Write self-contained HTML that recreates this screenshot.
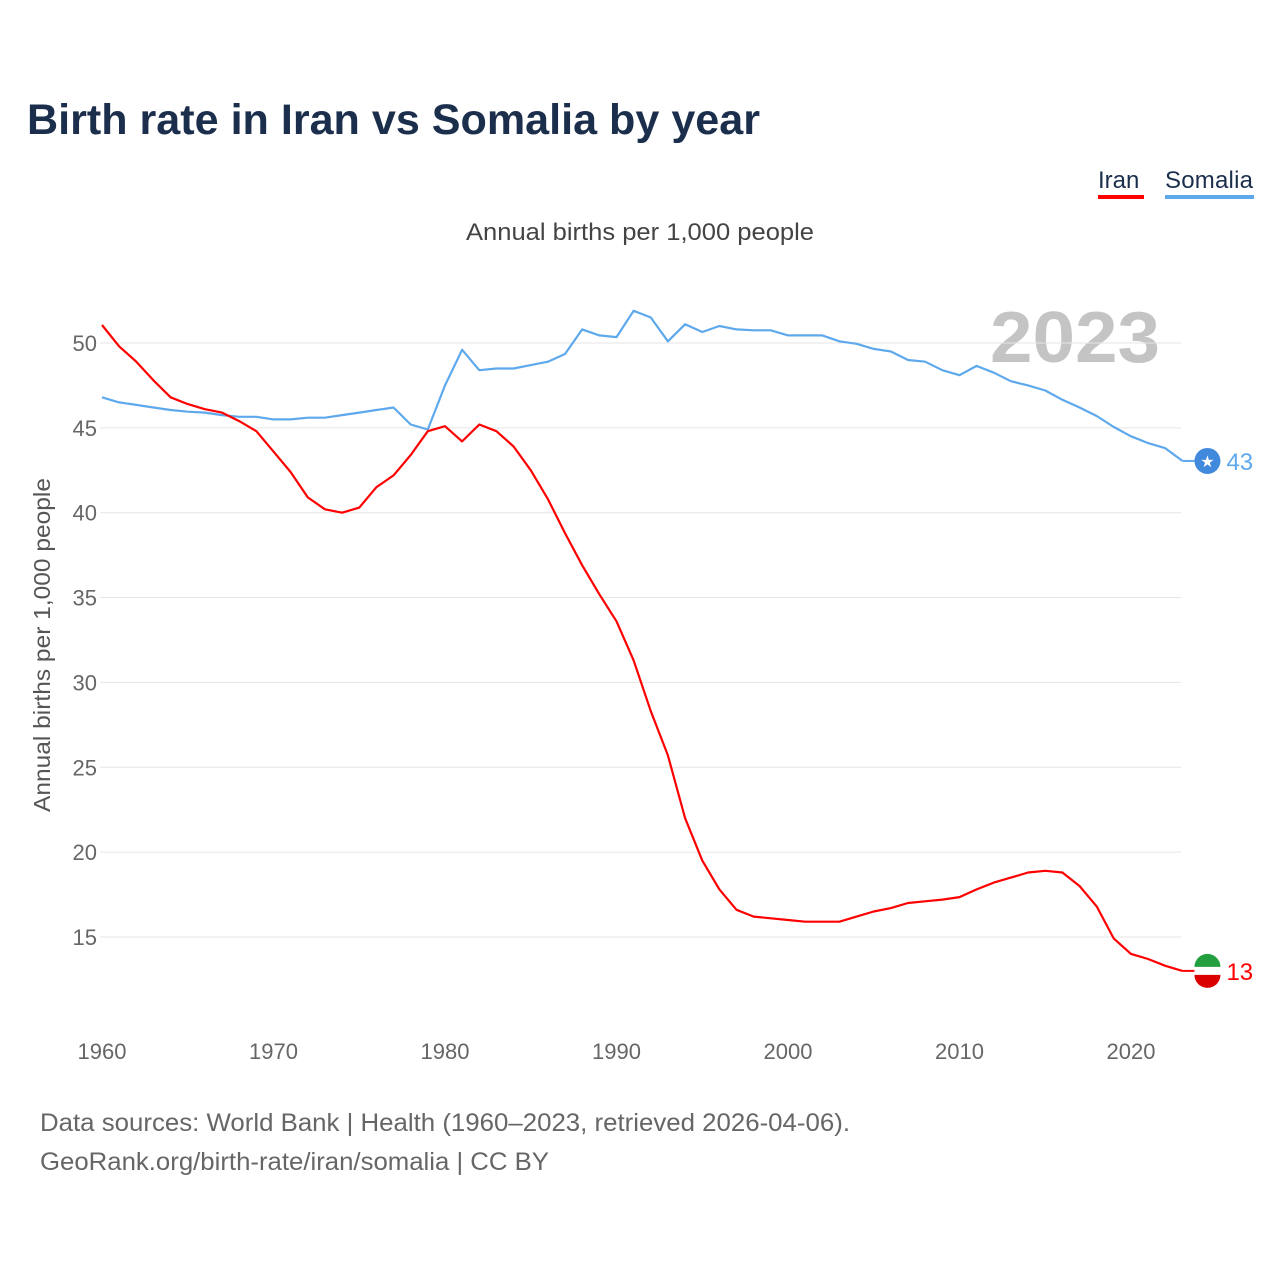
<!DOCTYPE html>
<html><head><meta charset="utf-8"><style>
body{margin:0;background:#fff;width:1280px;height:1280px;overflow:hidden;font-family:"Liberation Sans",sans-serif}
</style></head><body>
<svg id="chart" width="1280" height="1280" xmlns="http://www.w3.org/2000/svg">
<text x="27" y="134" font-size="43" font-weight="bold" fill="#1b2f4d" textLength="733" lengthAdjust="spacingAndGlyphs">Birth rate in Iran vs Somalia by year</text>
<g>
<text x="1098" y="188" font-size="24" fill="#1b2f4d">Iran</text>
<rect x="1098" y="195" width="46" height="4" fill="#f00"/>
<text x="1165" y="188" font-size="24" fill="#1b2f4d" textLength="88">Somalia</text>
<rect x="1165" y="195" width="89" height="4" fill="#5ea8ec"/>
</g>
<text x="466" y="240" font-size="24" fill="#444" textLength="348" lengthAdjust="spacingAndGlyphs">Annual births per 1,000 people</text>
<text x="1160" y="362" font-size="72" font-weight="bold" fill="#c4c4c4" text-anchor="end" textLength="170" lengthAdjust="spacingAndGlyphs">2023</text>
<text transform="translate(50,645) rotate(-90)" font-size="23" fill="#555" text-anchor="middle" textLength="334" lengthAdjust="spacingAndGlyphs">Annual births per 1,000 people</text>
<g id="grid"></g><g id="lines"></g>
<text x="40" y="1131" font-size="25" fill="#666" textLength="810" lengthAdjust="spacingAndGlyphs">Data sources: World Bank | Health (1960–2023, retrieved 2026-04-06).</text>
<text x="40" y="1170" font-size="25" fill="#666" textLength="509" lengthAdjust="spacingAndGlyphs">GeoRank.org/birth-rate/iran/somalia | CC BY</text>
</svg>
<script>
const years=[];for(let y=1960;y<=2023;y++)years.push(y);
const iran=[51.06,49.8,48.9,47.8,46.8,46.4,46.1,45.9,45.4,44.8,43.6,42.4,40.9,40.2,40.0,40.3,41.5,42.2,43.4,44.8,45.1,44.2,45.2,44.8,43.9,42.5,40.8,38.8,36.9,35.2,33.6,31.3,28.3,25.7,22.0,19.5,17.8,16.6,16.2,16.1,16.0,15.9,15.9,15.9,16.2,16.5,16.7,17.0,17.1,17.2,17.35,17.8,18.2,18.5,18.8,18.9,18.8,18.0,16.8,14.9,14.0,13.7,13.3,13.0];
const somalia=[46.8,46.5,46.35,46.2,46.05,45.95,45.9,45.75,45.65,45.65,45.5,45.5,45.6,45.6,45.75,45.9,46.05,46.2,45.2,44.9,47.5,49.6,48.4,48.5,48.5,48.7,48.9,49.35,50.8,50.45,50.35,51.9,51.5,50.1,51.1,50.65,51.0,50.8,50.75,50.75,50.45,50.45,50.45,50.1,49.95,49.65,49.5,49.0,48.9,48.4,48.1,48.65,48.25,47.75,47.5,47.2,46.65,46.2,45.7,45.05,44.5,44.1,43.8,43.05];
const yTicks=[15,20,25,30,35,40,45,50];
const xTicks=[1960,1970,1980,1990,2000,2010,2020];
const X=y=>102+(y-1960)*17.15, Y=v=>343+(50-v)*16.97;
const NS="http://www.w3.org/2000/svg";
function mk(t,a,p){const e=document.createElementNS(NS,t);for(const k in a)e.setAttribute(k,a[k]);p.appendChild(e);return e;}
const g=document.getElementById('grid');
yTicks.forEach(v=>{
 const l=mk('line',{x1:100,x2:1181,y1:Y(v),y2:Y(v),stroke:'#e6e6e6','stroke-width':1},g);
 
 
 const t=mk('text',{x:97,y:Y(v)+8,'font-size':22,fill:'#666','text-anchor':'end'},g);t.textContent=v;
 
 
});
xTicks.forEach(v=>{
 const t=mk('text',{x:X(v),y:1059,'font-size':22,fill:'#666','text-anchor':'middle'},g);t.textContent=v;
 
 
});
const L=document.getElementById('lines');
function line(d,c,name){
 const p=mk('path',{d:d.map((v,i)=>(i?'L':'M')+X(years[i]).toFixed(1)+','+Y(v).toFixed(1)).join(''),fill:'none',stroke:c,'stroke-width':2.2,'stroke-linejoin':'round'},L);
 
 
 const last=d[d.length-1],lx=X(years[years.length-1]);
 mk('line',{x1:lx,x2:lx+12,y1:Y(last),y2:Y(last),stroke:c,'stroke-width':2},L);
 const m=mk('circle',{cx:lx+25,cy:Y(last),r:13,fill:name=='somalia'?'#4189dd':'#fff'},L);
 
 
 if(name=='iran'){mk('path',{d:`M${lx+12},${Y(last)-4}A13,13 0 0 1 ${lx+38},${Y(last)-4}Z`,fill:'#239f40'},L);mk('path',{d:`M${lx+12},${Y(last)+4}A13,13 0 0 0 ${lx+38},${Y(last)+4}Z`,fill:'#da0000'},L);}
 else{const s=mk('text',{x:lx+25,y:Y(last)+6,'font-size':16,fill:'#fff','text-anchor':'middle'},L);s.textContent='★';}
 const t=mk('text',{x:lx+44,y:Y(last)+9,'font-size':24,fill:c},L);t.textContent=Math.round(last);
 
 
}
line(somalia,'#5ea8ec','somalia');
line(iran,'#f00','iran');
</script>
</body></html>
